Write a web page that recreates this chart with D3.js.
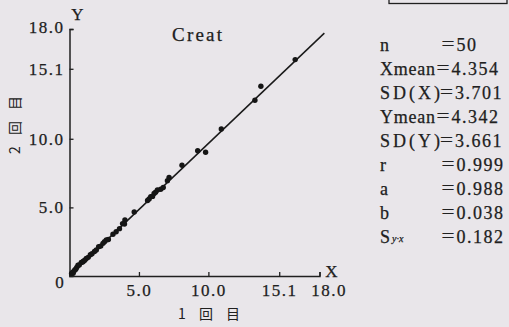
<!DOCTYPE html>
<html>
<head>
<meta charset="utf-8">
<script src="https://cdn.jsdelivr.net/npm/d3@7"></script>
<style>
  html, body { margin: 0; padding: 0; background: #e9e6ea; }
  svg { display: block; }
</style>
</head>
<body>
<script>
// Creatinine: first measurement (X) vs second measurement (Y), n = 50
const xValues = [0.15, 0.22, 0.26, 0.30, 0.38, 0.45, 0.52, 0.61, 0.70, 0.85,
                 0.95, 1.00, 1.10, 1.21, 1.35, 1.50, 1.62, 1.80, 1.93, 2.10,
                 2.25, 2.41, 2.52, 2.65, 2.80, 3.13, 3.36, 3.60, 3.82, 3.96,
                 3.99, 4.66, 5.62, 5.73, 5.85, 5.98, 6.09, 6.20, 6.33, 6.57,
                 6.75, 7.05, 7.17, 8.10, 9.23, 9.80, 10.93, 13.35, 13.78, 16.25];
const yValues = [0.18, 0.25, 0.20, 0.33, 0.44, 0.50, 0.62, 0.78, 0.80, 0.98,
                 1.02, 1.08, 1.15, 1.28, 1.36, 1.55, 1.62, 1.78, 1.90, 2.14,
                 2.18, 2.38, 2.50, 2.62, 2.66, 3.04, 3.23, 3.45, 3.82, 3.79,
                 4.08, 4.66, 5.50, 5.62, 5.78, 5.80, 6.02, 6.10, 6.27, 6.32,
                 6.45, 6.95, 7.19, 8.07, 9.13, 9.02, 10.71, 12.81, 13.83, 15.77];

// Regression line as printed (start and end)
const fitX = [0.0, 18.35];
const fitY = [0.03, 17.7];

const tickValues = [5.0, 10.0, 15.1, 18.0];

const statNames  = ["n", "Xmean", "SD(X)", "Ymean", "SD(Y)", "r", "a", "b", "S"];
const statValues = ["50", "4.354", "3.701", "4.342", "3.661", "0.999", "0.988", "0.038", "0.182"];

const W = 509, H = 327;
const ink = "#202020";
const serif = "'Liberation Serif', 'DejaVu Serif', serif";
const cjk = "'Noto Sans CJK JP', 'Noto Sans CJK SC', sans-serif";

const svg = d3.select("body").append("svg").attr("width", W).attr("height", H);
svg.append("rect").attr("width", W).attr("height", H).attr("fill", "#e9e6ea");

const x = d3.scaleLinear().domain([0, 18]).range([69.5, 319.5]);
const y = d3.scaleLinear().domain([0, 18]).range([276, 29]);

// Axes with inward ticks
const yAxis = d3.axisLeft(y).tickValues(tickValues).tickSize(-4).tickPadding(5)
  .tickFormat(d3.format(".1f"));
const xAxis = d3.axisBottom(x).tickValues(tickValues).tickSize(-4).tickPadding(8)
  .tickFormat(d3.format(".1f"));

const gy = svg.append("g").attr("transform", `translate(${x(0)},0)`).call(yAxis);
const gx = svg.append("g").attr("transform", `translate(0,${y(0)})`).call(xAxis);

[gx, gy].forEach(g => {
  g.select(".domain").attr("stroke", ink).attr("stroke-width", 1.5);
  g.selectAll(".tick line").attr("stroke", ink).attr("stroke-width", 1.3);
  g.selectAll(".tick text")
    .attr("fill", ink)
    .attr("stroke", ink).attr("stroke-width", 0.25)
    .style("font-family", serif)
    .style("font-size", "17px")
    .style("letter-spacing", "1.5px");
});
gx.selectAll(".tick text").filter(d => d === 18).attr("dx", 9);
gy.selectAll(".tick text").filter(d => d === 18).attr("dy", "0.18em");

const textStyle = sel => sel.attr("fill", ink).attr("stroke", ink).attr("stroke-width", 0.25);

// Origin label
svg.append("text").attr("x", x(0) - 10).attr("y", y(0) + 12)
  .attr("text-anchor", "middle").call(textStyle)
  .style("font-family", serif).style("font-size", "17px").text("0");

// Axis letters
svg.append("text").attr("x", x(0) + 8).attr("y", 20)
  .attr("text-anchor", "middle").call(textStyle)
  .style("font-family", serif).style("font-size", "17px").text("Y");
svg.append("text").attr("x", x(18) + 12).attr("y", y(0) + 1)
  .attr("text-anchor", "middle").call(textStyle)
  .style("font-family", serif).style("font-size", "17px").text("X");

// Axis titles
svg.append("text").attr("x", 178).attr("y", 319)
  .attr("textLength", 62).attr("lengthAdjust", "spacing")
  .attr("fill", ink).style("font-family", cjk).style("font-size", "14px")
  .text("1 回 目");
svg.append("text").attr("transform", "translate(20,154) rotate(-90)")
  .attr("textLength", 58).attr("lengthAdjust", "spacing")
  .attr("fill", ink).style("font-family", cjk).style("font-size", "14px")
  .text("2 回 目");

// Title
svg.append("text").attr("x", 172).attr("y", 41)
  .attr("textLength", 50).attr("lengthAdjust", "spacing")
  .call(textStyle).style("font-family", serif).style("font-size", "19px")
  .text("Creat");

// Regression line
const line = d3.line().x(d => x(d[0])).y(d => y(d[1]));
svg.append("path").datum(d3.zip(fitX, fitY))
  .attr("d", line).attr("fill", "none").attr("stroke", "#1a1a1a").attr("stroke-width", 1.5);

// Points
svg.append("g").selectAll("circle").data(d3.zip(xValues, yValues)).join("circle")
  .attr("cx", d => x(d[0])).attr("cy", d => y(d[1])).attr("r", 2.7)
  .attr("fill", "#151515");

// Statistics panel
const statX = 380, statTop = 51, statStep = 24;
const eqX = [441.5, 436.5, 440, 436.5, 440, 441.5, 441.5, 441.5, 441.5];
const stats = svg.append("g").call(textStyle).style("font-family", serif).style("font-size", "18px");
statNames.forEach((name, i) => {
  const yy = statTop + i * statStep;
  const t = stats.append("text").attr("x", statX).attr("y", yy);
  if (name === "S") {
    t.append("tspan").text("S");
    t.append("tspan").attr("dx", 2).attr("dy", -1)
      .style("font-size", "10px").style("font-style", "italic").text("y·x");
  } else if (name.startsWith("SD")) {
    t.attr("textLength", 60).attr("lengthAdjust", "spacing").text(name);
  } else if (name.endsWith("mean")) {
    t.attr("textLength", 55).attr("lengthAdjust", "spacing").text(name);
  } else {
    t.text(name);
  }
  stats.append("text").attr("x", eqX[i]).attr("y", yy - 1)
    .attr("textLength", 13).attr("lengthAdjust", "spacingAndGlyphs").text("=");
  stats.append("text").attr("x", eqX[i] + 15).attr("y", yy)
    .style("letter-spacing", "1.5px").text(statValues[i]);
});

// Framed box at the top right
svg.append("rect").attr("x", 389).attr("y", -10).attr("width", 118).attr("height", 13.5)
  .attr("fill", "none").attr("stroke", ink).attr("stroke-width", 1.3);
</script>
</body>
</html>
